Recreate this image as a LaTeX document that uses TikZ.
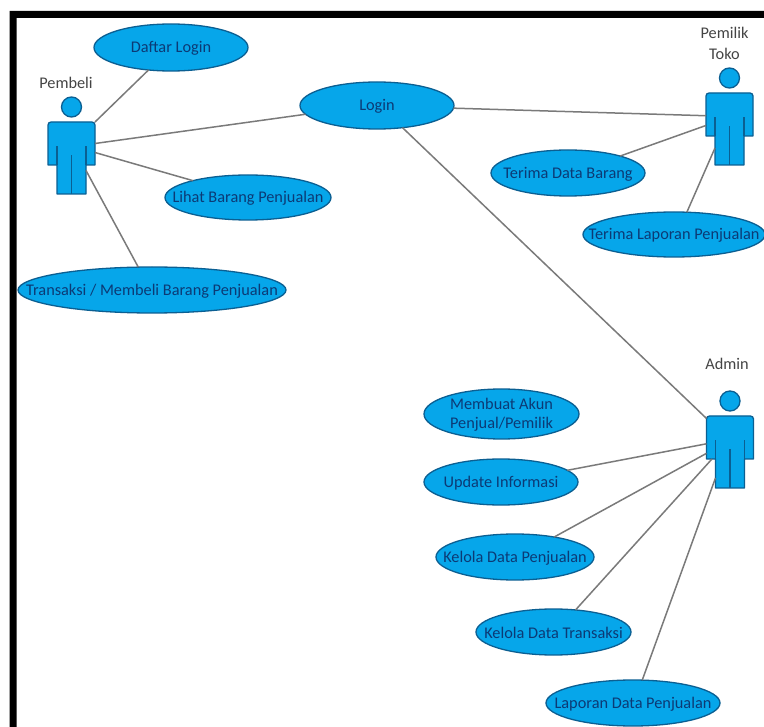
\documentclass[tikz,border=0pt]{standalone}
\usepackage{fontspec}
\setmainfont{Carlito}
\usetikzlibrary{shapes.geometric}
\definecolor{ucfill}{HTML}{06A6EA}
\definecolor{ucedge}{HTML}{0B5F92}
\definecolor{uctext}{HTML}{0C3A75}
\definecolor{conn}{HTML}{7A7A7A}
\definecolor{lbl}{HTML}{444444}
\tikzset{
  usecase/.style={ellipse,draw=ucedge,fill=ucfill,line width=1.3pt,inner sep=0pt,outer sep=0pt},
  uclabel/.style={text=uctext,font=\fontsize{16.3}{19}\selectfont,align=center,inner sep=0pt,yshift=-1pt},
  actorlabel/.style={text=lbl,font=\fontsize{16.3}{21}\selectfont,align=center,inner sep=0pt},
  actorbody/.style={draw=ucedge,fill=ucfill,line width=1.3pt,line join=round},
  actorinner/.style={draw=ucedge,line width=1.1pt},
  anchorbox/.style={rectangle,inner sep=0pt,outer sep=0pt},
  assoc/.style={draw=conn,line width=1.5pt},
}
\newcommand{\usecasenode}[6]{%
  \node[usecase,minimum width=#4*2pt,minimum height=#5*2pt] (#1) at (#2,#3) {};
  \node[uclabel] (#1-text) at (#1.center) {#6};
}
\newcommand{\actornode}[3]{%
  \begin{scope}[shift={(#2,#3)}]
    \path[actorbody] (-14.5,43) -- (-14.5,72) -- (14.5,72) -- (14.5,43) -- (23.5,43) -- (23.5,4)
      [rounded corners=3pt] -- (23.5,0) -- (-23.5,0) [sharp corners] -- (-23.5,43) -- cycle;
    \node[anchorbox,minimum width=47pt,minimum height=43pt] (#1-torso) at (0,21.5) {};
    \node[anchorbox,minimum width=29pt,minimum height=29pt] (#1-legs) at (0,57.5) {};
    \node[circle,actorbody,minimum size=20pt,inner sep=0pt] (#1-head) at (0,-15) {};
    \draw[actorinner] (#1-legs.north west) -- ++(0,-19);
    \draw[actorinner] (#1-legs.north east) -- ++(0,-19);
    \draw[actorinner] (#1-legs.south) -- ++(0,-39);
  \end{scope}
}
\begin{document}
\begin{tikzpicture}[x=1pt,y=-1pt]
\useasboundingbox (0,0) rectangle (764,727);
\fill[white] (0,0) rectangle (764,727);
\fill[black] (9.5,727) -- (9.5,11) -- (764,11) -- (764,18) -- (16.5,18) -- (16.5,727) -- cycle;

\usecasenode{daftar}{171}{47.5}{77}{23.5}{Daftar Login}
\usecasenode{login}{377}{105.5}{77}{23.5}{Login}
\usecasenode{lihat}{248}{197.5}{83}{22.5}{Lihat Barang Penjualan}
\usecasenode{transaksi}{152}{290}{134}{23}{Transaksi / Membeli Barang Penjualan}
\usecasenode{terimadata}{568}{173}{77}{23}{Terima Data Barang}
\usecasenode{terimalap}{674}{234.5}{91}{22.5}{Terima Laporan Penjualan}
\usecasenode{akun}{501.5}{414}{77.5}{25}{Membuat Akun\\Penjual/Pemilik}
\usecasenode{update}{501}{482}{77}{23}{Update Informasi}
\usecasenode{kelolap}{515}{557}{79}{23}{Kelola Data Penjualan}
\usecasenode{kelolat}{553.5}{632}{77.5}{23}{Kelola Data Transaksi}
\usecasenode{laporan}{633}{703}{87}{23}{Laporan Data Penjualan}

\actornode{pembeli}{71.5}{122}
\actornode{pemilik}{729.5}{93}
\actornode{admin}{730}{416}

\node[actorlabel] (pembeli-label) at (66,83) {Pembeli};
\node[actorlabel] (pemilik-label) at (724.5,43.5) {Pemilik\\Toko};
\node[actorlabel] (admin-label) at (727,364) {Admin};

\draw[assoc] (pembeli-torso.north east) -- (daftar.225);
\draw[assoc] (pembeli-torso.east) -- (login.187.3);
\draw[assoc] (pembeli-torso.339) -- (lihat.163.7);
\draw[assoc] (pembeli-legs.32) -- (transaksi.121);
\draw[assoc] (login.358.9) -- (pemilik-torso.183.6);
\draw[assoc] (pemilik-torso.205) -- (terimadata.18.4);
\draw[assoc] (pemilik-legs.170) -- (terimalap.60);
\draw[assoc] (login.319) -- (admin-torso.141);
\draw[assoc] (admin-torso.195.8) -- (update.10.7);
\draw[assoc] (admin-torso.214) -- (kelolap.27.7);
\draw[assoc] (admin-torso.230) -- (kelolat.45.6);
\draw[assoc] (admin-legs.197) -- (laporan.68.6);
\end{tikzpicture}
\end{document}
